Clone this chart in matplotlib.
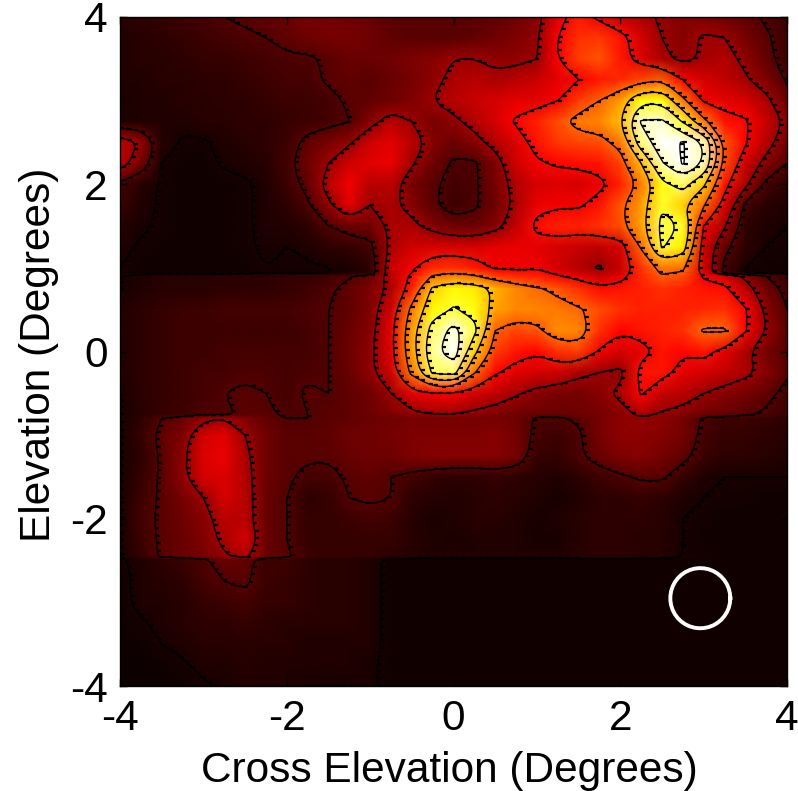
import numpy as np
import matplotlib
matplotlib.use("Agg")
import matplotlib.pyplot as plt
from matplotlib.path import Path

plt.rcParams['font.family'] = ['Liberation Sans', 'DejaVu Sans']
plt.rcParams['axes.unicode_minus'] = False

cross_elevation = [-4 + 0.25 * i for i in range(33)]
elevation = [4,3.75,3.5,3.25,3,2.75,2.5,2.25,2,1.75,1.5,1.25,1,0.94,0.9,0.75,0.5,0.25,0,
             -0.25,-0.5,-0.75,-0.8,-1,-1.25,-1.5,-1.75,-2,-2.25,-2.45,-2.49,-2.75,-3,-3.25,-3.5,-3.75,-4]
tick_values = [-4, -2, 0, 2, 4]
contour_levels = [2, 10, 20, 33, 47, 60, 73, 86, 97]
beam_center = (2.96, -2.95)
beam_radius = 0.36
x_label = "Cross Elevation (Degrees)"
y_label = "Elevation (Degrees)"

D = 1
row00 = [4,5,6,7,8,10,11,12,13,15,15,14,13,11,11,11,11,11,12,14,17,30,37,31,26,22,19,17,16,14,12,9,6]
row01 = [3,4,5,6,7,8,9,10,12,14,15,15,14,12,11,11,11,12,14,16,19,33,40,41,36,28,20,17,21,20,15,11,7]
row02 = [3,4,4,5,6,6,7,8,9,9,11,13,13,14,16,17,20,20,18,18,20,33,42,45,37,29,22,18,21,23,18,12,7]
row03 = [3,3,4,4,5,5,6,7,8,8,11,12,11,13,15,18,22,24,22,24,26,30,33,37,39,43,46,33,28,25,21,16,9]
row04 = [2,3,3,4,4,5,5,6,7,7,8,11,12,14,16,20,24,26,28,30,30,33,42,47,55,70,70,50,32,30,28,22,13]
row05 = [3,3,3,3,4,4,5,5,6,7,8,10,17,24,20,15,18,23,28,34,38,44,50,52,60,87,88,72,50,36,34,26,18]
row06 = [25,19,4,1.5,1.5,3,4,5,7,12,15,19,27,30,24,17,13,17,23,29,36,41,43,44,50,80,92,98,85,45,34,24,14]
row07 = [24,15,2,1,1,2.5,3,4,8,14,20,27,30,31,21,14,9,9,16,27,32,34,35,36,43,60,85,98,85,44,27,17,10]
row08 = [8,4,1.5,1,1,1,1.5,3,7,12,24,32,24,24,15,11,8,9,15,23,28,29,28,31,38,50,70,78,62,36,22,8,5]
row09 = [7,3,1.5,1,1,1,1.5,3,5,9,18,30,20,22,17,11,7,9,14,22,31,32,32,36,45,55,72,62,48,29,8,4,3]
row10 = [4,2.5,1.5,1,1,1,1.5,3,3.5,5,10,13,14,22,22,17,13,13,17,25,35,38,38,40,44,56,76,72,33,21,5,3,2]
row11 = [3,1.5,1,1,1,1,1.5,2.5,2,3,5,6,8,22,27,28,28,28,30,31,30,28,26,25,28,48,74,66,28,12,5,2,1.5]
row12 = [2,1,1,1,1,1,1,2,1.5,1.5,2,2.5,5,26,32,39,40,37,32,31,32,27,23,19,26,40,50,49,28,8,2,1,1]
rowA1 = [2,1,1,1,1,1,1,2,1.5,1.5,2,2.5,5,25,33,44,47,44,38,36,36,31,27,23,28,40,48,46,30,8,2,1,1]
rowA2 = [2,3,4,4,4,5,5,5,6,6,8,9.5,13,24,35,48,51,48,42,39,38,34,30,26,30,39,46,44,32,28,18,10,6]
row13 = [2,3,4,4,4,5,5,5,6,7,9,12,16,22,38,62,68,66,58,52,48,45,40,35,36,38,40,38,36,35,24,14,8]
row14 = [3,5,6,7,7,8,8,8,8,9,10,12,16,27,50,68,74,70,56,52,52,50,48,44,40,38,38,38,39,40,34,18,10]
row15 = [3,5,6,7,7,7,7,7,7,8,10,13,17,30,55,78,90,76,47,43,45,53,52,40,34,36,38,40,48,48,34,20,11]
row16 = [3,5,6,7,7,8,8,8,8,8,10,14,18,30,55,82,93,63,42,36,34,40,42,32,28,30,36,34,36,30,22,15,10]
row17 = [3,5,6,7,8,8,9,9,8,9,10,13,18,27,50,75,78,48,34,30,28,27,22,20,18,36,36,30,28,25,22,17,11]
row18 = [2,5,6,7,8,10,11,10,8,11,10,12,14,20,30,33,33,28,25,21,17,15,15,17,22,34,26,24,20,17,15,12,8]
row19 = [2,4,6,7,9,9,11,11,9,10,11,12,14,16,18,20,20,18,16,14,13,13,14,15,17,22,19,17,14,13,11,9,7]
rowB1 = [2,5,10,13,18,20,16,12,10,10,11,12,13,14,15,15,15,15,15,14,9,9,11,15,18,19,18,15,9,7,7,6,5]
row20 = [2,6,12,16,27,30,20,14,11,11,12,14,14,15,16,16,16,16,17,15,8,7,9,15,18,18,17,15,8,6,6,5,4]
row21 = [2,5,11,18,29,31,22,14,11,11,11,13,14,14,16,17,17,17,17,15,6,6,9,13,16,17,15,12,7,5,5,4,3]
row22 = [2,6,11,18,28,29,23,14,11,8,8,11,12,10,8,6,5,5,6,5,4,3,5,7,9,11,11,6,3,2,2,2,2]
row23 = [2,7,11,15,20,28,24,13,10,5,6,10,11,10,5,4,3,4,5,4,3,2,3,5,5,6,5,3,2,1.5,1.5,1,1]
row24 = [2,8,11,14,17,24,24,13,10,6,6,7,8,7,4,2.5,3,4,4,3,2.5,3,4,5,5,5,4,2,1.5,1,1,1,1]
row25 = [2,7,11,13,16,22,28,13,10,6,6,6,6,6,4,3,2.5,3,3,3,2,2.5,4,5,5,4,4,2,1,1,1,1,1]
rowC1 = [2,6,11,13,15,19,22,13,11,7,6,6,6,5,4,3,3,3,3,3,3,3,4,5,5,4,4,2,1.5,1,1,1,1]
row26 = [1.5,3,5,7,9,13,12,7,7,5,4,4,3,D,D,D,D,D,D,D,D,D,D,D,D,D,D,D,D,D,D,D,D]
row27 = [1,3,4,5,8,10,11,7,6,5,4,4,3,D,D,D,D,D,D,D,D,D,D,D,D,D,D,D,D,D,D,D,D]
row28 = [1,3,3,4,6,7,8,6,6,5,4,4,3,D,D,D,D,D,D,D,D,D,D,D,D,D,D,D,D,D,D,D,D]
row29 = [1,1.5,3,4,5,5,6,5,4,4,4,4,3,D,D,D,D,D,D,D,D,D,D,D,D,D,D,D,D,D,D,D,D]
row30 = [0.5,1,2,3,4,4,4,4,4,3,3,3,3,D,D,D,D,D,D,D,D,D,D,D,D,D,D,D,D,D,D,D,D]
row31 = [0.5,0.5,1,1.5,3,3,4,3,3,3,3,3,2.5,D,D,D,D,D,D,D,D,D,D,D,D,D,D,D,D,D,D,D,D]
row32 = [0.5,0.5,0.5,1,1.5,2.5,3,3,3,2,2,2,2.5,D,D,D,D,D,D,D,D,D,D,D,D,D,D,D,D,D,D,D,D]

Z = np.array([row00,row01,row02,row03,row04,row05,row06,row07,row08,row09,row10,
              row11,row12,rowA1,rowA2,row13,row14,row15,row16,row17,row18,row19,rowB1,
              row20,row21,row22,row23,row24,row25,rowC1,row26,row27,row28,row29,row30,row31,row32],
             dtype=float)


def rounded(points, passes=3):
    """Corner-cut a contour polyline so it reads as a smooth curve."""
    closed = np.allclose(points[0], points[-1])
    for _ in range(passes):
        a, b = points[:-1], points[1:]
        cut = np.empty((2 * len(a), 2))
        cut[0::2] = 0.75 * a + 0.25 * b
        cut[1::2] = 0.25 * a + 0.75 * b
        if closed:
            cut = np.vstack([cut, cut[0]])
        else:
            cut = np.vstack([points[0], cut, points[-1]])
        points = cut
    return points


fig = plt.figure(figsize=(7.98, 7.91), dpi=100)
ax = fig.add_axes([120/798, 1-686/791, 667/798, 669/791])
X, Y = np.meshgrid(cross_elevation, elevation)
ax.pcolormesh(X, Y, Z, cmap='hot', vmin=0, vmax=92, shading='gouraud', rasterized=True)
cs = ax.contour(cross_elevation, elevation, Z, levels=contour_levels, colors='k', linewidths=0.8)
paths = list(cs.get_paths())
cs.set_visible(False)
tick_marker = Path([[0, 0], [1, 0]])
for path in paths:
    for poly in path.to_polygons(closed_only=False):
        if len(poly) < 3:
            continue
        p = rounded(poly)
        ax.plot(p[:, 0], p[:, 1], color='k', lw=1.0, marker=tick_marker, ms=6, mew=1.6,
                fillstyle='none', markevery=0.0078, clip_on=True)

t = np.linspace(0, 2*np.pi, 40)
ax.plot(beam_center[0] + beam_radius*np.cos(t), beam_center[1] + beam_radius*np.sin(t),
        color='white', lw=2.8)

ax.set_xlim(-4, 4)
ax.set_ylim(-4, 4)
ax.set_xticks(tick_values)
ax.set_yticks(tick_values)
ax.tick_params(direction='in', length=5, width=1, labelsize=30.5, top=True, right=True, pad=9, color='k')
ax.set_xlabel(x_label, fontsize=30.5, labelpad=9, x=0.494)
ax.set_ylabel(y_label, fontsize=30.5, labelpad=8, y=0.495)
for s in ax.spines.values():
    s.set_linewidth(1)
fig.savefig('out.png', dpi=100)
